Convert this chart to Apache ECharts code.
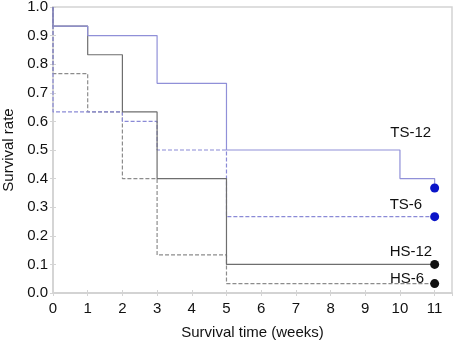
<!DOCTYPE html>
<html>
<head>
<meta charset="utf-8">
<script src="https://cdn.jsdelivr.net/npm/echarts@6/dist/echarts.min.js"></script>
<style>
  html, body { margin: 0; padding: 0; background: #fff; }
  #chart1 { width: 454px; height: 340px; }
</style>
</head>
<body>
<div id="chart1"></div>
<script>
  // step points (time, rate) for each group
  var ts12Time = [0, 0, 1, 3, 5, 10, 11];
  var ts12Rate = [1.0, 0.933, 0.9, 0.733, 0.5, 0.4, 0.367];
  var hs12Time = [0, 0, 1, 2, 3, 5, 11];
  var hs12Rate = [1.0, 0.933, 0.833, 0.633, 0.4, 0.1, 0.1];
  var ts6Time = [0, 0, 2, 3, 5, 11];
  var ts6Rate = [1.0, 0.633, 0.6, 0.5, 0.267, 0.267];
  var hs6Time = [0, 0, 1, 2, 3, 5, 11];
  var hs6Rate = [1.0, 0.767, 0.633, 0.4, 0.133, 0.033, 0.033];

  var groupNames = ['TS-12', 'TS-6', 'HS-12', 'HS-6'];
  var endTime = [11, 11, 11, 11];
  var endRate = [0.367, 0.267, 0.1, 0.033];

  var xTicks = [0, 1, 2, 3, 4, 5, 6, 7, 8, 9, 10, 11];
  var yTicks = [0.0, 0.1, 0.2, 0.3, 0.4, 0.5, 0.6, 0.7, 0.8, 0.9, 1.0];

  const zip = (a, b) => a.map((v, i) => [v, b[i]]);

  const getSurvivalChart = chartId => {
    let myChart = echarts.init(document.getElementById(chartId));
    let option;

    const axisGray = '#d4d4d4';
    const font = 'Liberation Sans, Arial, sans-serif';

    // label placement next to the end dots
    const dotColors = ['#0a14c8', '#0a14c8', '#111111', '#111111'];
    const labelOffsets = [[1, -55], [-8, -12], [2, -13], [-6, -5]];

    option = {
      animation: false,
      grid: {
        left: 53,
        right: 2,
        top: 7,
        bottom: 47,
        outerBoundsMode: 'none',
        containLabel: false,
        show: true,
        borderColor: axisGray,
        borderWidth: 1.5
      },
      xAxis: [
        {
          type: 'value',
          min: xTicks[0],
          max: 11.5,
          interval: 1,
          name: 'Survival time (weeks)',
          nameLocation: 'middle',
          nameGap: 32,
          nameTextStyle: { fontSize: 15, color: '#111', fontFamily: font },
          axisLine: { show: true, lineStyle: { color: axisGray, width: 1.5 } },
          axisTick: { show: true, inside: true, length: 3, lineStyle: { color: axisGray } },
          axisLabel: {
            fontSize: 15,
            color: '#111',
            fontFamily: font,
            margin: 8,
            showMaxLabel: false,
            formatter: v => (xTicks.indexOf(v) >= 0 ? String(v) : '')
          },
          splitLine: { show: false }
        },
        {
          type: 'value',
          position: 'top',
          min: xTicks[0],
          max: 11.5,
          interval: 1,
          axisLine: { show: true, lineStyle: { color: axisGray, width: 1.5 } },
          axisTick: { show: true, inside: true, length: 3, lineStyle: { color: axisGray } },
          axisLabel: { show: false },
          splitLine: { show: false }
        }
      ],
      yAxis: [
        {
          type: 'value',
          min: yTicks[0],
          max: yTicks[yTicks.length - 1],
          interval: 0.1,
          name: 'Survival rate',
          nameLocation: 'middle',
          nameGap: 36,
          nameTextStyle: { fontSize: 15, color: '#111', fontFamily: font },
          axisLine: { show: true, lineStyle: { color: axisGray, width: 1.5 } },
          axisTick: { show: true, inside: true, length: 3, lineStyle: { color: axisGray } },
          axisLabel: {
            fontSize: 15,
            color: '#111',
            fontFamily: font,
            margin: 5,
            formatter: v => v.toFixed(1)
          },
          splitLine: { show: false }
        },
        {
          type: 'value',
          position: 'right',
          min: 0,
          max: 1,
          interval: 0.1,
          axisLine: { show: true, lineStyle: { color: axisGray, width: 1.5 } },
          axisTick: { show: true, inside: true, length: 3, lineStyle: { color: axisGray } },
          axisLabel: { show: false },
          splitLine: { show: false }
        }
      ],
      series: [
        {
          name: 'HS-6',
          type: 'line',
          step: 'end',
          symbol: 'none',
          data: zip(hs6Time, hs6Rate),
          lineStyle: { color: '#8c8c8c', width: 1.2, type: [4, 2] }
        },
        {
          name: 'TS-6',
          type: 'line',
          step: 'end',
          symbol: 'none',
          data: zip(ts6Time, ts6Rate),
          lineStyle: { color: '#8a8ad6', width: 1.2, type: [4, 2] }
        },
        {
          name: 'HS-12',
          type: 'line',
          step: 'end',
          symbol: 'none',
          data: zip(hs12Time, hs12Rate),
          lineStyle: { color: '#6e6e6e', width: 1.2 }
        },
        {
          name: 'TS-12',
          type: 'line',
          step: 'end',
          symbol: 'none',
          data: zip(ts12Time, ts12Rate),
          lineStyle: { color: '#9090d8', width: 1.2 }
        },
        {
          name: 'ends',
          type: 'scatter',
          symbolSize: 9,
          data: groupNames.map((n, i) => ({
            value: [endTime[i], endRate[i]],
            name: n,
            itemStyle: { color: dotColors[i], opacity: 1 },
            label: {
              show: true,
              position: 'left',
              distance: 0,
              offset: labelOffsets[i],
              formatter: '{b}',
              fontSize: 15,
              color: '#111',
              fontFamily: font
            }
          })),
          z: 5
        }
      ]
    };

    option && myChart.setOption(option);
  }

  getSurvivalChart('chart1');
</script>
</body>
</html>
